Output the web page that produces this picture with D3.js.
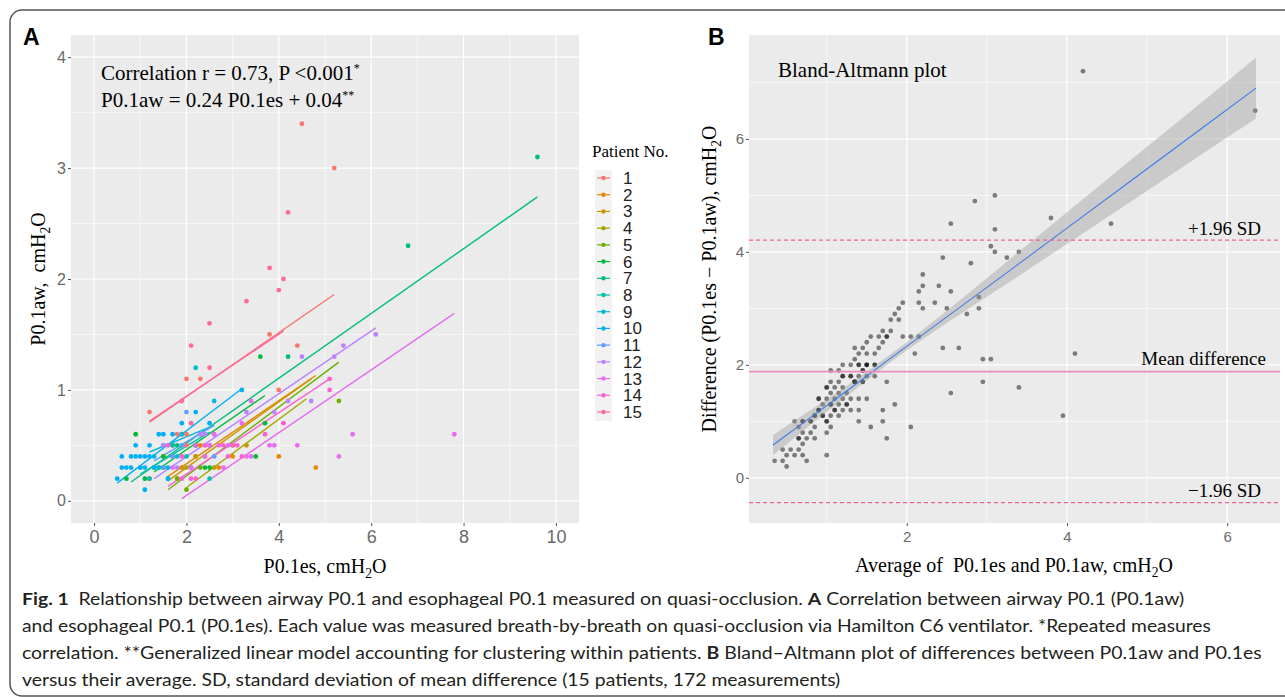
<!DOCTYPE html>
<html>
<head>
<meta charset="utf-8">
<script src="https://cdn.jsdelivr.net/npm/d3@7"></script>
<style>
  body { margin: 0; background: #fff; }
  svg { display: block; }
</style>
</head>
<body>
<svg id="fig" width="1285" height="697"></svg>
<script>
// P0.1 airway vs esophageal, two panels + caption

////////////////////////////////////////////////////////////////////////////////
// Data
const patients = ['1', '2', '3', '4', '5', '6', '7', '8', '9', '10', '11', '12', '13', '14', '15'];
const patientColors = ['#F8766D', '#E58700', '#C99800', '#A3A500', '#6BB100', '#00BA38', '#00BF7D',
  '#00C0AF', '#00BCD8', '#00B0F6', '#619CFF', '#B983FF', '#E76BF3', '#FD61D1', '#FF67A4'];

// P0.1es per patient (x of panel A)
const esByPatient = [
  [4.5, 5.2, 3.8, 4.4, 4.0, 1.2, 2.0, 2.3, 1.9, 2.0, 1.8, 2.2, 1.2, 1.8, 2.0],
  [4.8, 4.0, 2.7, 2.3, 1.9, 3.0],
  [2.2, 1.5, 3.3, 2.6],
  [1.7, 2.4, 2.0, 3.0],
  [2.0, 5.3, 1.7, 2.3, 1.8],
  [0.9, 0.7, 1.1, 1.3, 1.5, 2.4, 3.7, 3.5, 3.6, 2.5, 1.5],
  [9.6, 6.8, 4.2, 1.8, 2.2, 1.4, 2.5],
  [1.0, 1.2, 1.5, 1.7, 2.2, 2.5, 1.6, 2.0],
  [2.2, 2.6, 1.4, 1.5, 1.8, 2.2, 1.6, 1.9],
  [0.5, 0.6, 0.7, 0.8, 0.8, 0.9, 0.9, 1.0, 1.1, 1.1, 1.1, 1.2, 1.2, 1.3, 1.4, 1.5, 1.3, 1.6, 1.9, 2.2, 2.5, 3.2, 1.7, 1.0, 0.6],
  [2.0, 1.7, 2.6, 1.9, 2.3, 1.5, 2.1],
  [6.1, 5.4, 5.2, 4.5, 4.2, 4.7, 3.9, 3.3, 2.3, 2.4, 2.6, 2.4, 2.5, 1.8, 1.5],
  [7.8, 5.6, 5.3, 4.4, 3.8, 3.9, 3.4, 3.2, 3.4, 2.9, 2.7, 2.8, 2.5, 2.6, 1.7, 2.1, 2.4, 3.3],
  [5.1, 5.1, 4.1, 3.7, 2.9, 3.2, 2.4, 2.2, 1.6, 1.9, 2.1, 2.2, 2.8, 3.0, 3.1, 1.9],
  [4.2, 3.8, 4.1, 4.0, 3.3, 2.5, 2.1, 2.5, 1.9, 2.1]
];
// P0.1aw per patient (y of panel A)
const awByPatient = [
  [3.4, 3.0, 1.5, 1.4, 1.0, 0.8, 1.1, 1.1, 0.6, 0.6, 0.6, 0.4, 0.2, 0.2, 0.5],
  [0.3, 0.4, 0.3, 0.5, 0.3, 0.4],
  [0.4, 0.4, 0.5, 0.3],
  [0.4, 0.4, 0.3, 0.5],
  [0.1, 0.9, 0.5, 0.3, 0.2],
  [0.6, 0.2, 0.2, 0.3, 0.4, 0.3, 0.7, 0.4, 1.3, 0.3, 0.3],
  [3.1, 2.3, 1.3, 0.5, 0.5, 0.3, 0.5],
  [0.3, 0.2, 0.3, 0.5, 0.5, 0.2, 0.2, 0.4],
  [1.2, 0.9, 0.3, 0.5, 0.4, 0.5, 0.3, 0.6],
  [0.2, 0.4, 0.3, 0.3, 0.4, 0.4, 0.5, 0.4, 0.4, 0.3, 0.1, 0.4, 0.5, 0.4, 0.6, 0.6, 0.3, 0.2, 0.7, 0.8, 0.7, 1.0, 0.6, 0.3, 0.3],
  [0.8, 0.4, 0.4, 0.5, 0.6, 0.3, 0.3],
  [1.5, 1.4, 1.3, 1.3, 0.9, 0.9, 0.8, 0.8, 0.6, 0.6, 0.6, 0.5, 0.5, 0.3, 0.5],
  [0.6, 0.6, 0.4, 0.5, 0.5, 0.5, 0.9, 0.7, 0.4, 0.5, 0.5, 0.3, 0.5, 0.6, 0.3, 0.3, 0.4, 0.4],
  [1.1, 1.0, 0.7, 0.6, 0.4, 0.4, 0.5, 0.5, 0.5, 0.2, 0.2, 0.2, 0.5, 0.5, 0.5, 0.4],
  [2.6, 2.1, 2.0, 1.9, 1.8, 1.6, 1.4, 1.2, 0.9, 0.7]
];

// per-patient fitted line ends
const fitX0 = [1.2, 1.6, 1.6, 2.0, 1.6, 1.3, 0.8, 1.0, 1.2, 0.5, 1.3, 1.3, 1.9, 1.6, 1.2];
const fitY0 = [0.71, 0.22, 0.18, 0.12, 0.10, 0.26, 0.17, 0.24, 0.44, 0.16, 0.36, 0.20, 0.02, 0.13, 0.72];
const fitX1 = [5.2, 4.8, 4.7, 4.6, 5.3, 3.7, 9.6, 2.5, 2.6, 3.2, 2.6, 6.1, 7.8, 5.1, 4.1];
const fitY1 = [1.86, 1.13, 1.10, 0.92, 1.25, 0.95, 2.74, 0.62, 0.68, 1.01, 0.68, 1.56, 1.69, 1.10, 1.53];

const aXTicks = [0, 2, 4, 6, 8, 10];
const aYTicks = [0, 1, 2, 3, 4];

// Bland-Altmann
const meanDiff = 1.88;
const upperLoA = 4.21;
const lowerLoA = -0.44;
const bandX = [0.33, 0.8, 1.3, 1.8, 2.5, 3.2, 4.0, 4.8, 5.6, 6.36];
const bandFit = [0.58, 1.07, 1.59, 2.12, 2.85, 3.58, 4.42, 5.26, 6.10, 6.90];
const bandHalf = [0.18, 0.13, 0.09, 0.07, 0.11, 0.19, 0.28, 0.37, 0.45, 0.54];
const bXTicks = [2, 4, 6];
const bYTicks = [0, 2, 4, 6];

////////////////////////////////////////////////////////////////////////////////
const svg = d3.select('#fig');
const serif = '"Liberation Serif", "Times New Roman", serif';
const sans = '"Liberation Sans", Arial, sans-serif';

svg.append('rect')
  .attr('x', 10).attr('y', 10)
  .attr('width', 1300).attr('height', 686)
  .attr('rx', 12)
  .attr('fill', '#fff')
  .attr('stroke', '#555')
  .attr('stroke-width', 1.5);

// subscript helper for cmH2O
function cmH2O (text) {
  text.append('tspan').text('cmH');
  text.append('tspan').attr('dy', 5).attr('font-size', '0.68em').text('2');
  text.append('tspan').attr('dy', -5).text('O');
}

function minorTicks (ticks, domain) {
  const out = [];
  const step = ticks[1] - ticks[0];
  for (let i = -1; i < ticks.length; i++) {
    const v = ticks[0] + step * (i + 0.5);
    if (v > domain[0] && v < domain[1]) out.push(v);
  }
  return out;
}

function panel (g, x, y, xTicks, yTicks, opts) {
  const [x0, x1] = x.range();
  const [y1, y0] = y.range();
  g.append('rect')
    .attr('x', x0).attr('y', y0)
    .attr('width', x1 - x0).attr('height', y1 - y0)
    .attr('fill', '#EBEBEB');

  const grid = g.append('g');
  grid.selectAll('.vminor').data(minorTicks(xTicks, x.domain())).enter()
    .append('line')
    .attr('x1', d => x(d)).attr('x2', d => x(d))
    .attr('y1', y0).attr('y2', y1)
    .attr('stroke', '#fff').attr('stroke-width', 0.6);
  grid.selectAll('.hminor').data(minorTicks(yTicks, y.domain())).enter()
    .append('line')
    .attr('y1', d => y(d)).attr('y2', d => y(d))
    .attr('x1', x0).attr('x2', x1)
    .attr('stroke', '#fff').attr('stroke-width', 0.6);
  grid.selectAll('.vmajor').data(xTicks).enter()
    .append('line')
    .attr('x1', d => x(d)).attr('x2', d => x(d))
    .attr('y1', y0).attr('y2', y1)
    .attr('stroke', '#fff').attr('stroke-width', 1.2);
  grid.selectAll('.hmajor').data(yTicks).enter()
    .append('line')
    .attr('y1', d => y(d)).attr('y2', d => y(d))
    .attr('x1', x0).attr('x2', x1)
    .attr('stroke', '#fff').attr('stroke-width', 1.2);

  const xAxis = g.append('g')
    .attr('transform', `translate(0 ${y1})`)
    .call(d3.axisBottom(x).tickValues(xTicks).tickSize(3).tickPadding(opts.xPad).tickFormat(d3.format('d')));
  const yAxis = g.append('g')
    .attr('transform', `translate(${x0} 0)`)
    .call(d3.axisLeft(y).tickValues(yTicks).tickSize(3).tickPadding(2).tickFormat(d3.format('d')));
  [xAxis, yAxis].forEach(a => {
    a.select('.domain').remove();
    a.selectAll('line').attr('stroke', '#555');
    a.selectAll('text').attr('fill', '#6a6a6a').attr('font-family', sans);
  });
  xAxis.selectAll('text').attr('font-size', opts.xSize);
  yAxis.selectAll('text').attr('font-size', opts.ySize);
}

////////////////////////////////////////////////////////////////////////////////
// Panel A
const xA = d3.scaleLinear().domain([-0.5, 10.5]).range([71, 579]);
const yA = d3.scaleLinear().domain([-0.2, 4.2]).range([523, 35]);
const gA = svg.append('g');
panel(gA, xA, yA, aXTicks, aYTicks, { xSize: 18, ySize: 16, xPad: 4 });

svg.append('clipPath').attr('id', 'clipA')
  .append('rect').attr('x', 71).attr('y', 35).attr('width', 508).attr('height', 488);

const plotA = gA.append('g').attr('clip-path', 'url(#clipA)');
plotA.selectAll('.fit').data(patients).enter()
  .append('line')
  .attr('x1', (d, i) => xA(fitX0[i])).attr('y1', (d, i) => yA(fitY0[i]))
  .attr('x2', (d, i) => xA(fitX1[i])).attr('y2', (d, i) => yA(fitY1[i]))
  .attr('stroke', (d, i) => patientColors[i])
  .attr('stroke-width', 1.4);

const pointsA = [];
esByPatient.forEach((arr, i) => arr.forEach((v, j) => pointsA.push({ p: i, es: v, aw: awByPatient[i][j] })));

plotA.selectAll('.pt').data(pointsA).enter()
  .append('circle')
  .attr('cx', d => xA(d.es))
  .attr('cy', d => yA(d.aw))
  .attr('r', 2.4)
  .attr('fill', d => patientColors[d.p]);

gA.append('text')
  .attr('x', 101).attr('y', 80)
  .attr('font-family', serif).attr('font-size', 21)
  .call(t => {
    t.append('tspan').text('Correlation r = 0.73, P <0.001');
    t.append('tspan').attr('dy', -8).attr('font-size', 12).text('*');
  });
gA.append('text')
  .attr('x', 101).attr('y', 107)
  .attr('font-family', serif).attr('font-size', 21)
  .call(t => {
    t.append('tspan').text('P0.1aw = 0.24 P0.1es + 0.04');
    t.append('tspan').attr('dy', -8).attr('font-size', 12).text('**');
  });

gA.append('text')
  .attr('x', 325).attr('y', 573)
  .attr('text-anchor', 'middle')
  .attr('font-family', serif).attr('font-size', 20)
  .call(t => { t.append('tspan').text('P0.1es, '); cmH2O(t); });

gA.append('text')
  .attr('transform', 'translate(45 279) rotate(-90)')
  .attr('text-anchor', 'middle')
  .attr('font-family', serif).attr('font-size', 20)
  .call(t => { t.append('tspan').text('P0.1aw,\u00a0 '); cmH2O(t); });

svg.append('text')
  .attr('x', 23).attr('y', 45)
  .attr('font-family', sans).attr('font-weight', 'bold').attr('font-size', 23)
  .text('A');

// legend
const legend = svg.append('g');
legend.append('text')
  .attr('x', 592).attr('y', 157)
  .attr('font-family', serif).attr('font-size', 17)
  .text('Patient No.');
const keyY = d3.scalePoint().domain(patients).range([178, 412]);
legend.append('rect')
  .attr('x', 595).attr('y', 170)
  .attr('width', 17).attr('height', 251)
  .attr('fill', '#F2F2F2');
const keys = legend.selectAll('.key').data(patients).enter()
  .append('g')
  .attr('transform', d => `translate(0 ${keyY(d)})`);
keys.append('line')
  .attr('x1', 597).attr('x2', 610)
  .attr('stroke', (d, i) => patientColors[i]).attr('stroke-width', 1.2);
keys.append('circle')
  .attr('cx', 603.5).attr('r', 2.2)
  .attr('fill', (d, i) => patientColors[i]);
keys.append('text')
  .attr('x', 623).attr('y', 6)
  .attr('font-family', sans).attr('font-size', 17)
  .attr('fill', '#222')
  .text(d => d);

////////////////////////////////////////////////////////////////////////////////
// Panel B
const xB = d3.scaleLinear().domain([0.03, 6.66]).range([749, 1280]);
const yB = d3.scaleLinear().domain([-0.8, 7.84]).range([523, 35]);
const gB = svg.append('g');
panel(gB, xB, yB, bXTicks, bYTicks, { xSize: 15, ySize: 15, xPad: 5 });

const pointsB = pointsA.map(d => ({ avg: (d.es + d.aw) / 2, diff: d.es - d.aw }));
gB.selectAll('.bpt').data(pointsB).enter()
  .append('circle')
  .attr('cx', d => xB(d.avg))
  .attr('cy', d => yB(d.diff))
  .attr('r', 2.4)
  .attr('fill', '#000')
  .attr('fill-opacity', 0.48);

const bandData = bandX.map((v, i) => ({ x: v, fit: bandFit[i], h: bandHalf[i] }));
gB.append('path')
  .datum(bandData)
  .attr('d', d3.area().curve(d3.curveMonotoneX)
    .x(d => xB(d.x))
    .y0(d => yB(d.fit - d.h))
    .y1(d => yB(d.fit + d.h)))
  .attr('fill', '#999').attr('fill-opacity', 0.4);
gB.append('path')
  .datum(bandData)
  .attr('d', d3.line().x(d => xB(d.x)).y(d => yB(d.fit)))
  .attr('fill', 'none')
  .attr('stroke', '#3B7DE8').attr('stroke-width', 1.1);

const [bx0, bx1] = xB.range();
gB.append('line')
  .attr('x1', bx0).attr('x2', bx1)
  .attr('y1', yB(meanDiff)).attr('y2', yB(meanDiff))
  .attr('stroke', '#EC8DC2').attr('stroke-width', 1.6);
[upperLoA, lowerLoA].forEach(v => {
  gB.append('line')
    .attr('x1', bx0).attr('x2', bx1)
    .attr('y1', yB(v)).attr('y2', yB(v))
    .attr('stroke', '#F0609A').attr('stroke-width', 1.2)
    .attr('stroke-dasharray', '4 3');
});

gB.append('text')
  .attr('x', 1261).attr('y', 235)
  .attr('text-anchor', 'end')
  .attr('font-family', serif).attr('font-size', 19)
  .text('+1.96 SD');
gB.append('text')
  .attr('x', 1266).attr('y', 365)
  .attr('text-anchor', 'end')
  .attr('font-family', serif).attr('font-size', 19)
  .text('Mean difference');
gB.append('text')
  .attr('x', 1261).attr('y', 497)
  .attr('text-anchor', 'end')
  .attr('font-family', serif).attr('font-size', 19)
  .text('\u22121.96 SD');
gB.append('text')
  .attr('x', 778).attr('y', 77)
  .attr('font-family', serif).attr('font-size', 21)
  .text('Bland-Altmann plot');

gB.append('text')
  .attr('x', 1014).attr('y', 572)
  .attr('text-anchor', 'middle')
  .attr('font-family', serif).attr('font-size', 20)
  .call(t => { t.append('tspan').text('Average of\u00a0 P0.1es and P0.1aw, '); cmH2O(t); });

gB.append('text')
  .attr('transform', 'translate(716 279) rotate(-90)')
  .attr('text-anchor', 'middle')
  .attr('font-family', serif).attr('font-size', 20)
  .call(t => { t.append('tspan').text('Difference (P0.1es \u2212 P0.1aw), '); cmH2O(t); });

svg.append('text')
  .attr('x', 708).attr('y', 45)
  .attr('font-family', sans).attr('font-weight', 'bold').attr('font-size', 23)
  .text('B');

////////////////////////////////////////////////////////////////////////////////
// Caption: lines are squeezed sideways to the width of the print, line 4 takes the
// average squeeze of the others since it is not full width
const captionLines = [
  { y: 605, w: 1163, parts: [['Fig. 1', true], ['\u2002Relationship between airway P0.1 and esophageal P0.1 measured on quasi-occlusion. ', false], ['A', true], [' Correlation between airway P0.1 (P0.1aw)', false]] },
  { y: 632, w: 1190, parts: [['and esophageal P0.1 (P0.1es). Each value was measured breath-by-breath on quasi-occlusion via Hamilton C6 ventilator. *Repeated measures', false]] },
  { y: 659, w: 1240, parts: [['correlation. **Generalized linear model accounting for clustering within patients. ', false], ['B', true], [' Bland\u2013Altmann plot of differences between P0.1aw and P0.1es', false]] },
  { y: 686, w: null, parts: [['versus their average. SD, standard deviation of mean difference (15 patients, 172 measurements)', false]] }
];
const squeeze = [];
captionLines.forEach(line => {
  const g = svg.append('g');
  const t = g.append('text')
    .attr('x', 0).attr('y', 0)
    .attr('font-family', 'Lato, "Open Sans", sans-serif')
    .attr('font-size', 16.5)
    .attr('fill', '#231f20');
  line.parts.forEach(([s, bold]) => {
    t.append('tspan').attr('font-weight', bold ? 'bold' : 'normal').text(s);
  });
  const natural = t.node().getComputedTextLength();
  const k = line.w ? line.w / natural : d3.mean(squeeze);
  if (line.w) squeeze.push(k);
  g.attr('transform', `translate(22 ${line.y}) scale(${k} 1)`);
});
</script>
</body>
</html>
